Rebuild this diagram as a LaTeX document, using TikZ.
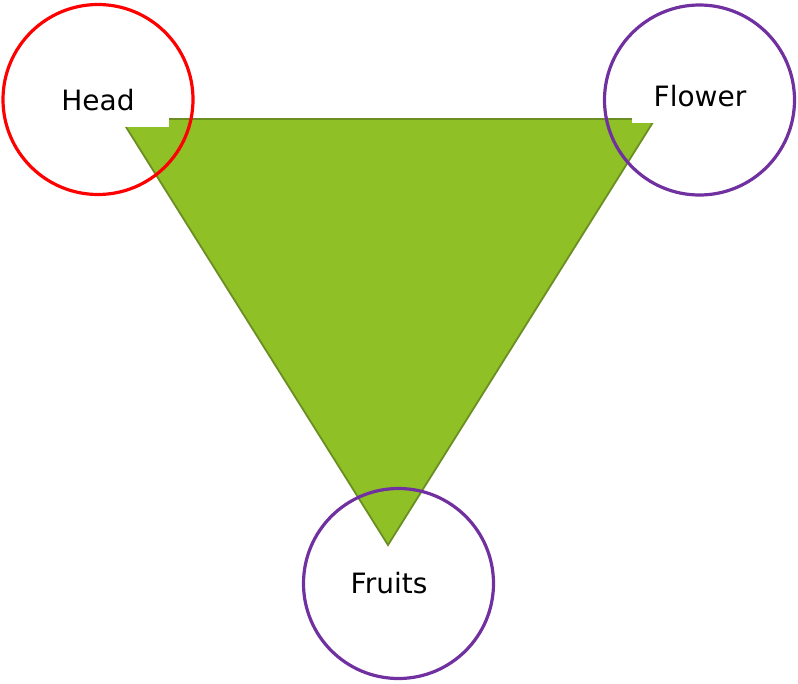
\documentclass[tikz,border=0pt]{standalone}
\usepackage{fontspec}
\setmainfont{DejaVu Sans}
\definecolor{trifill}{RGB}{143,193,39}
\definecolor{triline}{RGB}{107,142,35}
\definecolor{ringpurple}{RGB}{112,48,160}
\begin{document}
\begin{tikzpicture}[x=1pt,y=-1pt,
  ring/.style={draw=#1,line width=3.2pt,circle,minimum size=190pt,inner sep=0pt},
  lbl/.style={font=\fontsize{28}{30}\selectfont,inner sep=0pt,text=black},
  mask/.style={fill=white,draw=none}]
\useasboundingbox (0,0) rectangle (798,683);
\draw[fill=trifill,draw=triline,line width=1.8pt]
  (121,119) coordinate (tl) -- (655,119) coordinate (tr) -- (388,545) coordinate (bt) -- cycle;
\fill[mask] (40,70) rectangle (169,127);
\fill[mask] (632,70) rectangle (760,123);
\node[ring=red] (headc) at (98,99.5) {};
\node[ring=ringpurple] (flowc) at (699.5,100) {};
\node[ring=ringpurple] (fruc) at (398.5,583.5) {};
\node[lbl] (head) at (98,100) {Head};
\node[lbl] (flower) at (700,96) {Flower};
\node[lbl] (fruits) at (389,583) {Fruits};
\end{tikzpicture}
\end{document}
